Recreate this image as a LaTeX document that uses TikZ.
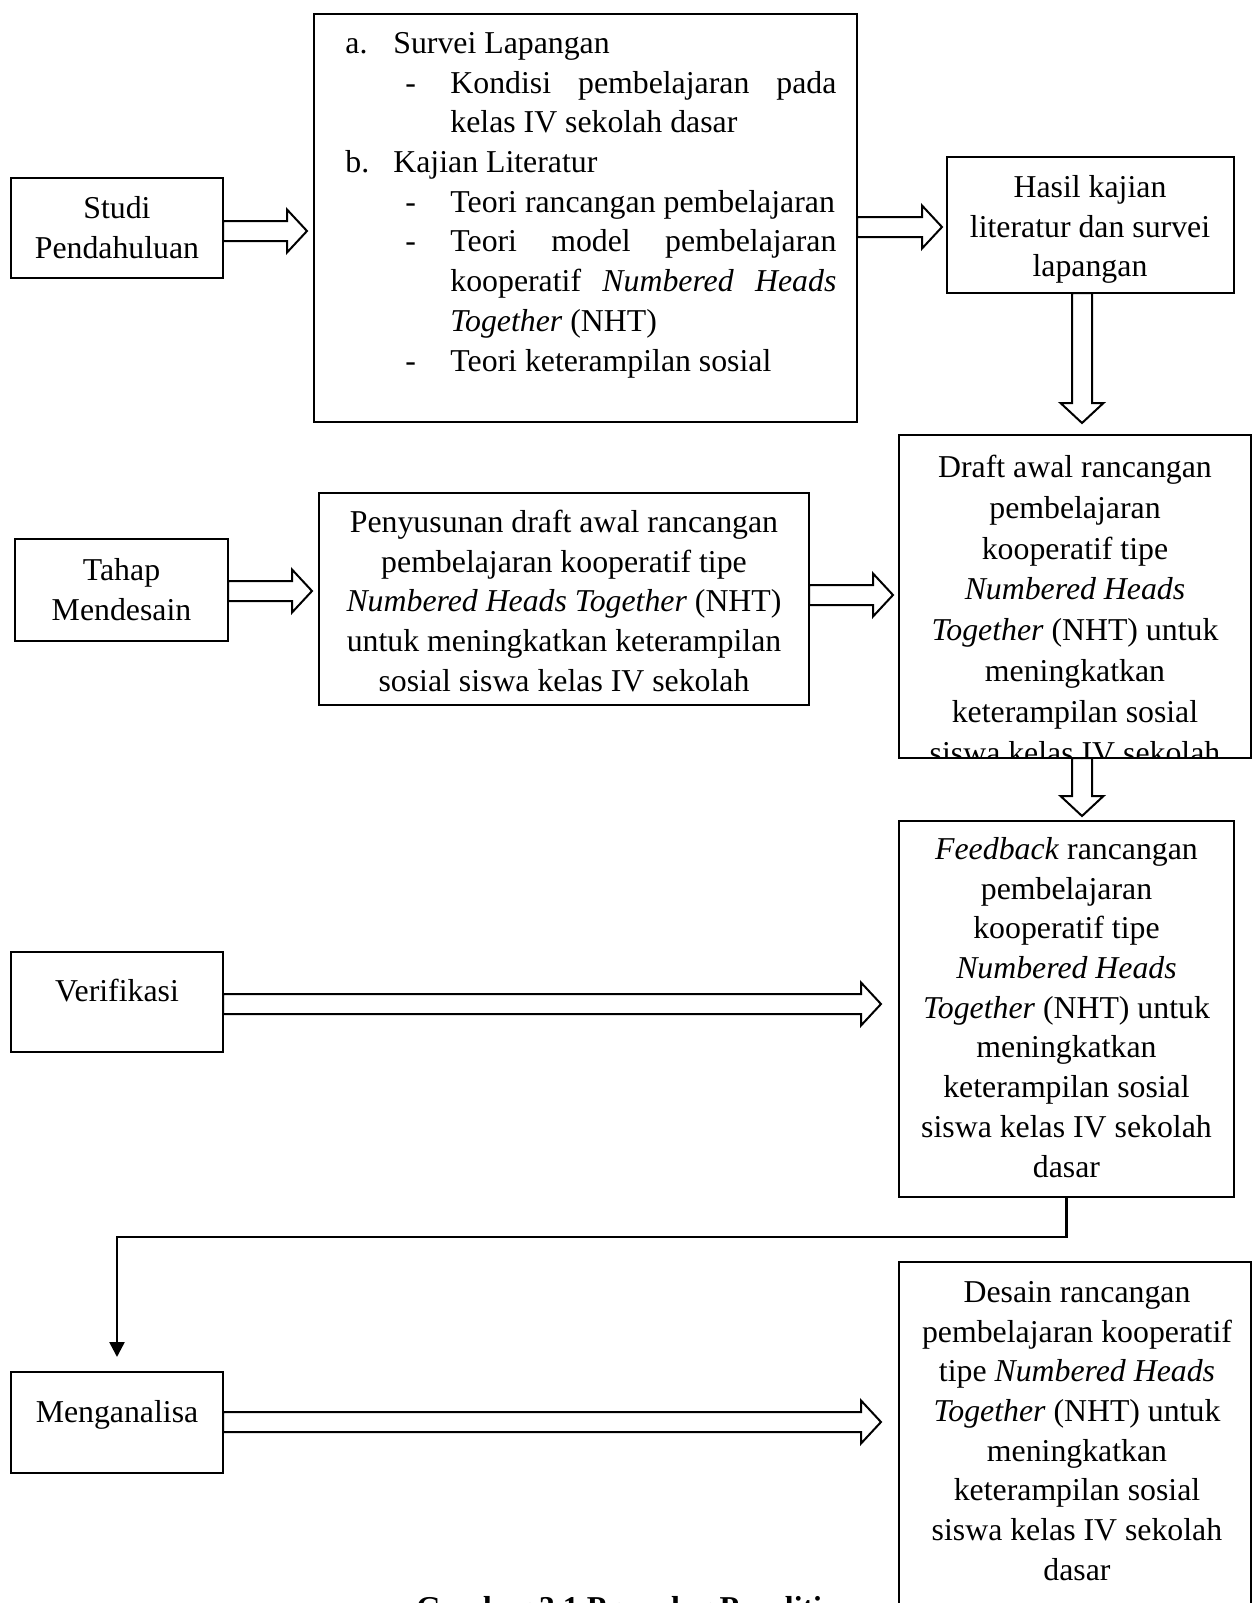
\documentclass[tikz,border=0pt]{standalone}
\usepackage{fontspec}
\setmainfont{Liberation Serif}
\usetikzlibrary{calc,arrows.meta}
\newcommand\fs{\fontsize{15.9pt}{19.85pt}\selectfont}
\newcommand\fsd{\fontsize{15.9pt}{20.4pt}\selectfont}
\newcommand\fl{\rule{0pt}{12pt}}
\newcommand\HArr[4]{%
 \draw[blk] ($(#1.east |- 0,#3)+(0,-10)$) -- ($(#2.west |- 0,#3)+(-#4-20,-10)$)
  -- ($(#2.west |- 0,#3)+(-#4-20,-21.5)$) -- ($(#2.west |- 0,#3)+(-#4,0)$)
  -- ($(#2.west |- 0,#3)+(-#4-20,21.5)$) -- ($(#2.west |- 0,#3)+(-#4-20,10)$)
  -- ($(#1.east |- 0,#3)+(0,10)$) -- cycle;}
\newcommand\VArr[4]{%
 \draw[blk] ($(#3,0 |- #1.south)+(-10,0)$) -- ($(#3,0 |- #2.north)+(-10,-#4-20)$)
  -- ($(#3,0 |- #2.north)+(-21.5,-#4-20)$) -- ($(#3,0 |- #2.north)+(0,-#4)$)
  -- ($(#3,0 |- #2.north)+(21.5,-#4-20)$) -- ($(#3,0 |- #2.north)+(10,-#4-20)$)
  -- ($(#3,0 |- #1.south)+(10,0)$) -- cycle;}
\tikzset{
 box/.style={draw, line width=1.3pt, inner sep=0pt, outer sep=0pt, anchor=north west},
 txt/.style={font=\fs, align=center, inner sep=0pt, anchor=north},
 blk/.style={draw, line width=1pt, fill=white, line join=miter},
 elb/.style={draw, line width=1.25pt, -{Triangle[length=7.5pt,width=7.5pt]}}
}
\begin{document}
\begin{tikzpicture}[x=0.5pt,y=-0.5pt]
\useasboundingbox (0,0) rectangle (1255,1603);
\clip (0,0) rectangle (1255,1603);
\fill[white] (0,0) rectangle (1255,1603);

% boxes
\node[box, minimum width=106pt, minimum height=50pt] (studi) at (11,178) {};
\node[box, minimum width=271.5pt, minimum height=204pt] (list) at (314,14) {};
\node[box, minimum width=143.5pt, minimum height=68pt] (hasil) at (947,157) {};
\node[box, minimum width=176pt, minimum height=161.5pt] (draft) at (899,435) {};
\node[box, minimum width=106.5pt, minimum height=51pt] (tahap) at (15,539) {};
\node[box, minimum width=245pt, minimum height=106pt] (susun) at (319,493) {};
\node[box, minimum width=167.5pt, minimum height=188pt] (feedback) at (899,821) {};
\node[box, minimum width=106pt, minimum height=50pt] (verif) at (11,952) {};
\node[box, minimum width=106pt, minimum height=50.5pt] (analisa) at (11,1372) {};
\node[box, minimum width=176pt, minimum height=180pt] (desain) at (899,1262) {};

% texts
\node[txt] (studi-t) at (117,194) {\fl Studi\\Pendahuluan};
\node[txt] (tahap-t) at (121.5,556) {\fl Tahap\\Mendesain};
\node[txt] (verif-t) at (117,977) {\fl Verifikasi};
\node[txt] (analisa-t) at (117,1398) {\fl Menganalisa};
\node[txt] (hasil-t) at (1090,173) {\fl Hasil kajian\\literatur dan survei\\lapangan};
\node[txt] (susun-t) at (564,508) {\fl Penyusunan draft awal rancangan\\pembelajaran kooperatif tipe\\\textit{Numbered Heads Together} (NHT)\\untuk meningkatkan keterampilan\\sosial siswa kelas IV sekolah};
\begin{scope}
\clip (draft.north west) rectangle (draft.south east);
\node[txt, font=\fsd] (draft-t) at (1075,453) {\fl Draft awal rancangan\\pembelajaran\\kooperatif tipe\\\textit{Numbered Heads}\\\textit{Together} (NHT) untuk\\meningkatkan\\keterampilan sosial\\siswa kelas IV sekolah\\dasar};
\end{scope}
\node[txt] (feedback-t) at (1066.5,835) {\fl\textit{Feedback} rancangan\\pembelajaran\\kooperatif tipe\\\textit{Numbered Heads}\\\textit{Together} (NHT) untuk\\meningkatkan\\keterampilan sosial\\siswa kelas IV sekolah\\dasar};
\node[txt] (desain-t) at (1077,1278) {\fl Desain rancangan\\pembelajaran kooperatif\\tipe \textit{Numbered Heads}\\\textit{Together} (NHT) untuk\\meningkatkan\\keterampilan sosial\\siswa kelas IV sekolah\\dasar};
\node[txt, align=left, anchor=north west] (list-t) at (345,29) {%
\fl\makebox[24pt][l]{a.}Survei Lapangan\\
\hspace*{30pt}\makebox[22.5pt][l]{-}\makebox[193pt][s]{Kondisi pembelajaran pada}\\
\hspace*{52.5pt}kelas IV sekolah dasar\\
\makebox[24pt][l]{b.}Kajian Literatur\\
\hspace*{30pt}\makebox[22.5pt][l]{-}Teori rancangan pembelajaran\\
\hspace*{30pt}\makebox[22.5pt][l]{-}\makebox[193pt][s]{Teori model pembelajaran}\\
\hspace*{52.5pt}\makebox[193pt][s]{kooperatif \textit{Numbered Heads}}\\
\hspace*{52.5pt}\textit{Together} (NHT)\\
\hspace*{30pt}\makebox[22.5pt][l]{-}Teori keterampilan sosial};
\node[font=\fs\bfseries, anchor=base, inner sep=0pt] (caption) at (636,1618) {Gambar 3.1 Prosedur Penelitian};

% block arrows
\HArr{studi}{list}{231}{7}
\HArr{list}{hasil}{227}{5}
\VArr{hasil}{draft}{1082}{12}
\HArr{tahap}{susun}{591}{7}
\HArr{susun}{draft}{595}{6}
\VArr{draft}{feedback}{1082}{5}
\HArr{verif}{feedback}{1004}{18}
\HArr{analisa}{desain}{1422}{18}

% elbow connector
\draw[elb] (feedback.south) -- ++(0,40) -| ($(analisa.north)+(0,-15)$);
\end{tikzpicture}
\end{document}
